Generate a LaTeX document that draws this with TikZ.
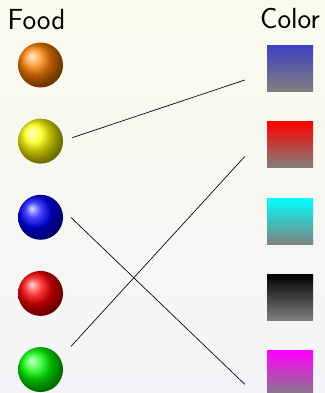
\documentclass[tikz,border=0pt]{standalone}
\usepackage{xcolor}
\usepackage{tikz}
\usetikzlibrary{positioning}

\definecolor{bgtop}{RGB}{250,250,237}
\definecolor{bgbottom}{RGB}{244,244,248}

\begin{document}
\begin{tikzpicture}[
    fruit/.style={circle, minimum size=33.75pt, inner sep=0pt, shading=ball},
    swatch/.style={rectangle, minimum size=34.5pt, inner sep=0pt, bottom color=gray},
    heading/.style={font=\fontsize{21.8pt}{26pt}\selectfont\sffamily, inner sep=0pt},
    link/.style={line width=0.5pt, black}
]

\useasboundingbox (0,0) rectangle (243.75pt,-294.75pt);
\shade[top color=bgtop, bottom color=bgbottom] (0,0) rectangle (243.75pt,-294.75pt);

% food column
\node (orange) [fruit, ball color=orange] at (30.4pt,-48.75pt) {};
\node (yellow) [fruit, ball color=yellow, below=22.95pt of orange] {};
\node (blue) [fruit, ball color=blue, below=22.95pt of yellow] {};
\node (red) [fruit, ball color=red, below=22.95pt of blue] {};
\node (green) [fruit, ball color=green, below=22.95pt of red] {};

% color column
\node (sqblue) [swatch, top color=blue!50!gray] at (217.5pt,-51.4pt) {};
\node (sqred) [swatch, top color=red, below=22.3pt of sqblue] {};
\node (sqcyan) [swatch, top color=cyan, below=22.3pt of sqred] {};
\node (sqblack) [swatch, top color=black, below=22.3pt of sqcyan] {};
\node (sqmagenta) [swatch, top color=magenta, below=22.3pt of sqblack] {};

\node (food) [heading, above=9.4pt of orange, xshift=-3pt] {Food};
\node (color) [heading, above=12pt of sqblue] {Color};

\draw [link] ([xshift=6.75pt, yshift=2.6pt]yellow.east) -- ([xshift=-16.5pt, yshift=-8.6pt]sqblue.west);
\draw [link] ([xshift=5.6pt]blue.east) -- ([xshift=-16.5pt, yshift=-8pt]sqmagenta.west);
\draw [link] ([xshift=5.8pt, yshift=17.4pt]green.east) -- ([xshift=-16.5pt, yshift=-8.8pt]sqred.west);

\end{tikzpicture}
\end{document}
